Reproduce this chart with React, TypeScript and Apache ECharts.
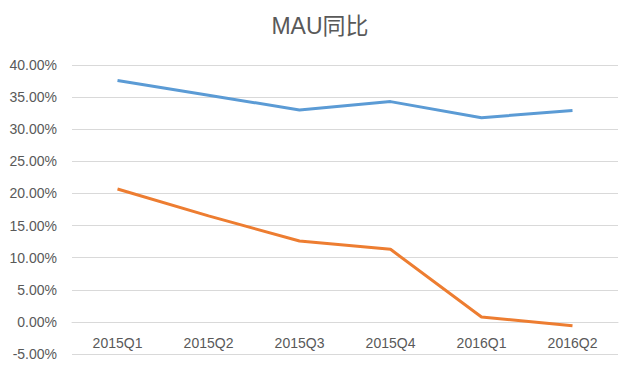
import React, { useEffect, useRef } from "react";
import * as echarts from "echarts";

const categories = ["2015Q1", "2015Q2", "2015Q3", "2015Q4", "2016Q1", "2016Q2"];
const blueValues = [37.6, 35.3, 33.0, 34.3, 31.8, 32.9];
const orangeValues = [20.7, 16.5, 12.6, 11.3, 0.75, -0.6];
const titleText = "MAU同比";

export default function App() {
  const ref = useRef<HTMLDivElement>(null);
  useEffect(() => {
    if (!ref.current) return;
    const chart = echarts.init(ref.current, null, { renderer: "svg" });
    chart.setOption({
      animation: false,
      backgroundColor: "#ffffff",
      title: {
        text: titleText,
        left: "center",
        top: 9,
        textStyle: {
          fontFamily: "'Liberation Sans', 'Noto Sans CJK SC', sans-serif",
          fontSize: 23,
          fontWeight: "normal",
          color: "#595959",
        },
      },
      grid: { left: 72, right: 22, top: 65, bottom: 21, outerBoundsMode: "none", containLabel: false },
      xAxis: {
        type: "category",
        data: categories,
        boundaryGap: true,
        offset: -32,
        axisLine: { show: true, onZero: false, lineStyle: { color: "#d9d9d9", width: 1 } },
        axisTick: { show: false },
        axisLabel: {
          margin: 14,
          fontSize: 14,
          color: "#595959",
          fontFamily: "'Liberation Sans', sans-serif",
        },
      },
      yAxis: {
        type: "value",
        min: -5,
        max: 40,
        interval: 5,
        axisLine: { show: false },
        axisTick: { show: false },
        axisLabel: {
          margin: 15,
          fontSize: 14,
          color: "#595959",
          fontFamily: "'Liberation Sans', sans-serif",
          formatter: (v: number) => v.toFixed(2) + "%",
        },
        splitLine: { lineStyle: { color: "#d9d9d9", width: 1 } },
      },
      series: [
        {
          type: "line",
          data: blueValues,
          symbol: "none",
          lineStyle: { color: "#5b9bd5", width: 3 },
          itemStyle: { color: "#5b9bd5" },
        },
        {
          type: "line",
          data: orangeValues,
          symbol: "none",
          lineStyle: { color: "#ed7d31", width: 3 },
          itemStyle: { color: "#ed7d31" },
        },
      ],
    });
    return () => chart.dispose();
  }, []);
  return (
    <div
      ref={ref}
      style={{ position: "fixed", left: 0, top: 0, width: 640, height: 375 }}
    />
  );
}
